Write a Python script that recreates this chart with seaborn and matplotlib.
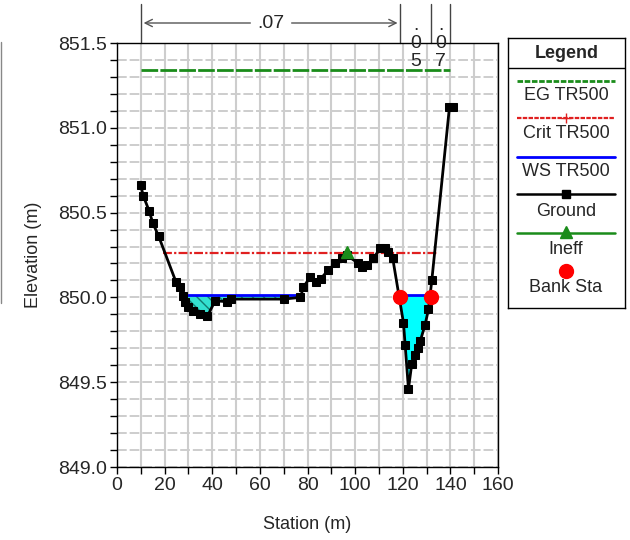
import numpy as np
import pandas as pd
import matplotlib
matplotlib.use("Agg")
import matplotlib.pyplot as plt
from matplotlib.lines import Line2D
from matplotlib.ticker import MultipleLocator
import matplotlib.transforms as mtransforms
import seaborn as sns

# ---------------- data ----------------
ground_sta = [10, 11, 13.5, 15, 17.5, 24.8, 26.5, 27.6, 28.6, 29.9, 32, 35, 38, 41.2,
              46, 48, 70, 77, 78.3, 81.1, 83.6, 85.5, 88.7, 91.6, 94.4, 96.4, 101.4,
              102.8, 104.9, 107.7, 110.5, 112.6, 114, 115.8, 120.3, 121, 122.4, 123.8,
              125.2, 126.5, 127.3, 129.4, 130.8, 132.2, 139.6, 141]
ground_elev = [850.66, 850.60, 850.51, 850.44, 850.36, 850.09, 850.06, 850.01, 849.975,
               849.945, 849.92, 849.905, 849.89, 849.98, 849.975, 849.99, 849.99, 850.00,
               850.06, 850.12, 850.09, 850.11, 850.16, 850.20, 850.23, 850.25, 850.20,
               850.18, 850.19, 850.23, 850.29, 850.29, 850.27, 850.23, 849.85, 849.72,
               849.46, 849.61, 849.66, 849.70, 849.74, 849.84, 849.93, 850.10, 851.12, 851.12]

eg_sta = [10, 140]
eg_elev = [851.34, 851.34]
crit_sta = [19.5, 134.8]
crit_elev = [850.26, 850.26]
ws_left_sta = [26.5, 78.2]
ws_chan_sta = [118.9, 132.2]
ws_value = 850.014
bank_sta = [118.9, 131.8]
bank_elev = [850.0, 850.0]
ineff_sta = [96.4]
ineff_elev = [850.27]

n_break_sta = [10, 119, 132, 140]
n_values = [".07", ".05", ".07"]

x_ticks = [0, 20, 40, 60, 80, 100, 120, 140, 160]
y_ticks = [849.0, 849.5, 850.0, 850.5, 851.0, 851.5]

legend_labels = ["EG TR500", "Crit TR500", "WS TR500", "Ground", "Ineff", "Bank Sta"]

# ---------------- style ----------------
sns.set_theme(style="white")
plt.rcParams['font.family'] = ['Liberation Sans', 'DejaVu Sans']
plt.rcParams['font.size'] = 13

fig = plt.figure(figsize=(6.3, 5.4), dpi=100)
ax = fig.add_axes([117/630, 1-467/540, 381/630, 424/540])

ground_df = pd.DataFrame({"Station": ground_sta, "Elevation": ground_elev})
gs = np.array(ground_sta, dtype=float)
ge = np.array(ground_elev, dtype=float)

# grid
ax.set_xlim(0, 160)
ax.set_ylim(849.0, 851.5)
ax.xaxis.set_major_locator(MultipleLocator(20))
ax.xaxis.set_minor_locator(MultipleLocator(10))
ax.yaxis.set_major_locator(MultipleLocator(0.5))
ax.yaxis.set_minor_locator(MultipleLocator(0.1))
ax.grid(True, which='both', axis='x', color='#cdcdcd', lw=1.5, ls='-')
ax.grid(True, which='both', axis='y', color='#cdcdcd', lw=1.4, ls=(0, (5, 1.5)))
ax.set_axisbelow(True)

# water fills
ws_l = np.full_like(gs, ws_value)
mask_left = (gs >= 26) & (gs <= 79)
ax.fill_between(gs[mask_left], ge[mask_left], ws_l[mask_left],
                where=ge[mask_left] < ws_value, interpolate=True,
                facecolor='#33e0d0', edgecolor='#127a70', hatch='\\\\\\', lw=0, zorder=2)
mask_ch = (gs >= 115) & (gs <= 133)
ax.fill_between(gs[mask_ch], ge[mask_ch], ws_l[mask_ch],
                where=ge[mask_ch] < ws_value, interpolate=True,
                facecolor='#00ffff', lw=0, zorder=2)

# lines
ax.plot(eg_sta, eg_elev, color='#1a8c1a', lw=2, ls=(0, (6, 0.8)), zorder=3)
ax.plot(crit_sta, crit_elev, color='#e02020', lw=1.6, ls=(0, (4, 1, 1, 1)), zorder=3)
ax.plot(ws_left_sta, [ws_value]*2, color='#0000ff', lw=2, zorder=3)
ax.plot(ws_chan_sta, [ws_value]*2, color='#0000ff', lw=2, zorder=3)

sns.lineplot(data=ground_df, x="Station", y="Elevation", ax=ax, sort=False,
             color='black', lw=2, marker='s', markersize=5.5, markeredgecolor='black',
             zorder=4)
ax.plot(ineff_sta, ineff_elev, ls='none', marker='^', color='#1a8c1a', markersize=9, zorder=5)
ax.plot(bank_sta, bank_elev, ls='none', marker='o', color='#ff0000', markersize=10, zorder=5)

# axes decorations
ax.set_xticks(x_ticks)
ax.set_yticks(y_ticks)
ax.set_yticklabels([f"{v:.1f}" for v in y_ticks])
ax.tick_params(axis='both', which='both', direction='out', length=5, width=1,
               color='black', labelsize=14, pad=2, bottom=True, left=True)
for s in ax.spines.values():
    s.set_color('black')
    s.set_linewidth(1)
ax.set_xlabel("Station (m)", fontsize=13, labelpad=16)
ax.set_ylabel("Elevation (m)", fontsize=13, labelpad=12)

# Manning's n annotations above plot
trans = mtransforms.blended_transform_factory(ax.transData, ax.transAxes)
def yfrac(py):
    return 1 + (43 - py) / 424
for s_ in n_break_sta:
    ax.plot([s_, s_], [1.0, yfrac(4)], transform=trans, color='#444444', lw=1, clip_on=False)
ax.annotate("", xy=(n_break_sta[0], yfrac(23)), xytext=(n_break_sta[1], yfrac(23)),
            xycoords=trans, textcoords=trans,
            arrowprops=dict(arrowstyle='<->', color='#555555', lw=1))
mid0 = (n_break_sta[0] + n_break_sta[1]) / 2
ax.text(mid0, yfrac(23), n_values[0], transform=trans, ha='center', va='center',
        fontsize=14, backgroundcolor='white', zorder=6)
for i in (1, 2):
    mid = (n_break_sta[i] + n_break_sta[i+1]) / 2
    chars = list(n_values[i])
    for ch, py in zip(chars, [26, 43, 61]):
        ax.text(mid, yfrac(py), ch, transform=trans, ha='center', va='center',
                fontsize=14, zorder=6, clip_on=False)

# gray line on left edge
fig.add_artist(Line2D([1/630, 1/630], [1-42/540, 1-303/540], color='#888888', lw=1))

# ---------------- legend ----------------
lax = fig.add_axes([508/630, 1-308/540, 117/630, 270/540])
lax.set_xlim(508, 625)
lax.set_ylim(308, 38)
lax.set_xticks([]); lax.set_yticks([])
for s in lax.spines.values():
    s.set_color('black'); s.set_linewidth(1)
lax.set_facecolor('white')
lax.text(566.5, 53, "Legend", ha='center', va='center', fontsize=13, fontweight='bold')
lax.plot([508, 625], [68, 68], color='black', lw=1)
xl = [517, 615]
cx = 566
lax.plot(xl, [81, 81], color='#1a8c1a', lw=2, ls=(0, (2, 0.6)))
lax.plot(xl, [118, 118], color='#e02020', lw=1.6, ls=(0, (2, 0.6)))
lax.plot([cx], [118], marker='+', color='#e02020', markersize=7)
lax.plot(xl, [157, 157], color='#0000ff', lw=2)
lax.plot(xl, [194, 194], color='black', lw=1.8)
lax.plot([cx], [194], marker='s', color='black', markersize=6)
lax.plot(xl, [233, 233], color='#1a8c1a', lw=1.8)
lax.plot([cx], [232], marker='^', color='#1a8c1a', markersize=9)
lax.plot([cx], [271], marker='o', color='#ff0000', markersize=10)
for lab, py in zip(legend_labels, [96, 133, 171, 212, 250, 288]):
    lax.text(cx, py, lab, ha='center', va='center', fontsize=13)

fig.savefig("out.png", dpi=100)
